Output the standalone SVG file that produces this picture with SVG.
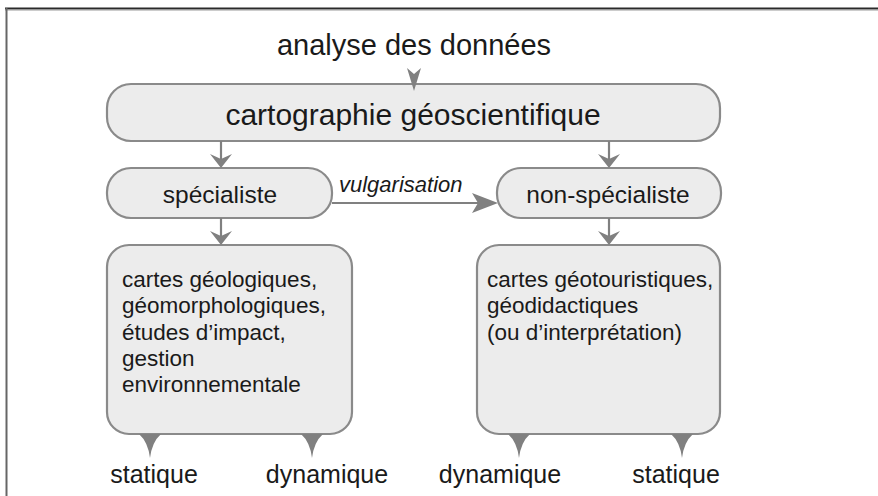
<svg xmlns="http://www.w3.org/2000/svg" width="878" height="496" viewBox="0 0 878 496">
<style>
.box{fill:#ececec;stroke:#8a8a8a;stroke-width:2.2}
.t{font-family:"Liberation Sans",Arial,sans-serif;fill:#1a1a1a}
.c{text-anchor:middle}
.ln{stroke:#808080;stroke-width:2.2;fill:none}
.ah{fill:#808080;stroke:none}
</style>
<rect width="878" height="496" fill="#ffffff"/>
<g id="frame">
<line x1="5" y1="8.5" x2="878" y2="8.5" stroke="#2a2a2a" stroke-width="2"/>
<line x1="5" y1="10" x2="878" y2="10" stroke="#999" stroke-width="1"/>
<line x1="6.5" y1="8" x2="6.5" y2="496" stroke="#666" stroke-width="2"/>
</g>
<g id="analyse">
<text class="t c" x="414" y="55" font-size="29">analyse des données</text>
</g>
<g id="cartographie">
<rect class="box" x="107" y="84" width="613" height="57" rx="24"/>
<text class="t c" x="413" y="125" font-size="30">cartographie géoscientifique</text>
</g>
<g id="specialiste">
<rect class="box" x="107" y="168" width="225" height="50" rx="24"/>
<text class="t c" x="220" y="203" font-size="24.5">spécialiste</text>
</g>
<g id="non-specialiste">
<rect class="box" x="497" y="168" width="224" height="50" rx="24"/>
<text class="t c" x="608" y="203" font-size="24.5">non-spécialiste</text>
</g>
<g id="cartes-specialiste">
<rect class="box" x="107" y="245" width="245" height="189" rx="22"/>
<text class="t" font-size="22.5">
<tspan x="122" y="287">cartes géologiques,</tspan>
<tspan x="122" y="313">géomorphologiques,</tspan>
<tspan x="122" y="339.5">études d’impact,</tspan>
<tspan x="122" y="366">gestion</tspan>
<tspan x="122" y="392">environnementale</tspan>
</text>
</g>
<g id="cartes-non-specialiste">
<rect class="box" x="477" y="245" width="243" height="189" rx="22"/>
<text class="t" font-size="22.5">
<tspan x="487" y="287">cartes géotouristiques,</tspan>
<tspan x="487" y="313">géodidactiques</tspan>
<tspan x="487" y="339.5">(ou d’interprétation)</tspan>
</text>
</g>
<g id="connectors">
<path class="ah" d="M407,68 L414,74 L421,68 L414,91 Z"/>
<line class="ln" x1="221" y1="141" x2="221" y2="162"/>
<path class="ah" d="M221,168 L210,154 L221,159 L232,154 Z"/>
<line class="ln" x1="609" y1="141" x2="609" y2="162"/>
<path class="ah" d="M609,168 L598,154 L609,159 L620,154 Z"/>
<line class="ln" x1="221" y1="218" x2="221" y2="239"/>
<path class="ah" d="M221,245 L210,231 L221,236 L232,231 Z"/>
<line class="ln" x1="609" y1="218" x2="609" y2="239"/>
<path class="ah" d="M609,245 L598,231 L609,236 L620,231 Z"/>
<line class="ln" x1="332" y1="203" x2="490" y2="203"/>
<path class="ah" d="M498,203 L472,193 L478,203 L472,213 Z"/>
<text class="t" x="339" y="192" font-size="22" font-style="italic">vulgarisation</text>
<path class="ah" d="M139,434 L161,434 Q152,442 150,458 Q148,442 139,434 Z"/>
<path class="ah" d="M301,434 L323,434 Q314,442 312,458 Q310,442 301,434 Z"/>
<path class="ah" d="M508,434 L530,434 Q521,442 519,458 Q517,442 508,434 Z"/>
<path class="ah" d="M671,434 L693,434 Q684,442 682,458 Q680,442 671,434 Z"/>
</g>
<g id="labels">
<text class="t c" x="154" y="483" font-size="25">statique</text>
<text class="t c" x="327" y="483" font-size="25">dynamique</text>
<text class="t c" x="500" y="483" font-size="25">dynamique</text>
<text class="t c" x="676" y="483" font-size="25">statique</text>
</g>
</svg>
